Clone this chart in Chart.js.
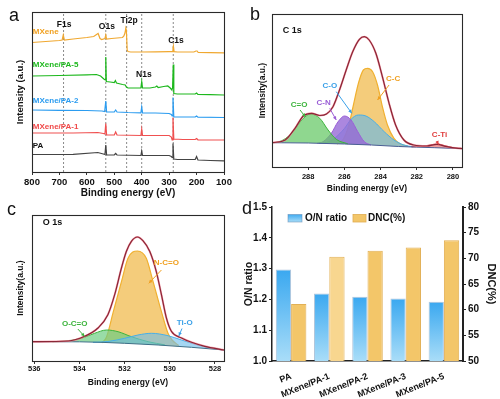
<!DOCTYPE html>
<html><head><meta charset="utf-8">
<script src="https://cdn.jsdelivr.net/npm/chart.js@4.4.1/dist/chart.umd.min.js"></script>
<style>
html,body{margin:0;padding:0;background:#fff;}
#wrap{position:relative;width:500px;height:399px;overflow:hidden;background:#fff;}
canvas{position:absolute;left:0;top:0;}
.lt{position:absolute;font-family:Arial,"Liberation Sans",sans-serif;font-size:18px;color:#111;line-height:18px;}
</style></head><body>
<div id="wrap">
<canvas id="ca" width="500" height="399"></canvas>
<canvas id="cb" width="500" height="399"></canvas>
<canvas id="cc" width="500" height="399"></canvas>
<canvas id="cd" width="500" height="399"></canvas>
<div class="lt" style="left:9px;top:6px;">a</div>
<div class="lt" style="left:250px;top:5px;">b</div>
<div class="lt" style="left:7px;top:200px;">c</div>
<div class="lt" style="left:242px;top:199px;">d</div>
</div>
<script>
// ================= DATA =================
// (a) XPS survey spectra: [binding energy (eV), intensity (a.u., stacked offset)]
const surveyNames = ['MXene', 'MXene/PA-5', 'MXene/PA-2', 'MXene/PA-1', 'PA'];
const surveyMXene = [[800,129.5],[750,130.5],[700,131.5],[690,132],[686,137],[682,132],[650,133],[600,134.5],[575,135.5],[562,138],[559,138.5],[552,133.5],[546,132.5],[534,133.5],[531,137],[528,133],[510,133.5],[490,134],[470,134.5],[465,136],[461,139],[458,144],[456,142],[453,122],[450,120.5],[440,120],[400,120],[350,120.2],[300,120.4],[289,120.4],[286,124],[284.5,126],[282,120.4],[270,120],[210,120],[202,121],[198,121],[194,119.5],[150,119.4],[100,119.2]];
const surveyPA5 = [[800,96],[700,96.5],[600,97.2],[565,97.5],[550,96],[538,93],[533,92],[531,115],[529,90.5],[515,90],[500,89.5],[496,91.5],[492,89],[470,87.5],[460,87],[456,85],[450,84],[420,84],[403,84],[400,90.5],[397,84],[370,84],[350,85],[345,86],[340,84.5],[320,85.5],[305,86],[296,84],[290,82],[287.5,84],[285,107.5],[283,78.5],[270,78],[205,78],[200,79],[195,77.5],[150,77.4],[100,77]];
const surveyPA2 = [[800,62],[700,61.7],[600,61.5],[545,61],[535,60.5],[531,71],[528,60],[500,60],[495,62],[490,60],[450,59.5],[403,59.2],[400,65],[397,59],[350,59],[300,58.5],[292,57.5],[289,56],[286,74.5],[283,55],[250,55],[205,55],[200,56],[195,54.8],[100,54.5]];
const surveyPA1 = [[800,39],[650,39],[560,39.5],[540,38.5],[534,38],[531,48.5],[528,37],[500,37],[495,40],[490,37],[403,36.5],[400,43],[397,36.5],[300,36.5],[292,35],[289,32],[286,54.5],[283,33],[250,32.5],[205,32.5],[200,33.5],[195,32.2],[100,32]];
const surveyPA = [[800,17.5],[650,17.7],[560,19.5],[540,18],[534,17.5],[531,27],[528,17],[500,17],[495,18.5],[490,17],[403,16.5],[400,21],[397,16.5],[300,16.5],[292,15.5],[289,14.5],[286,28.5],[283,13],[270,12.5],[205,12.5],[200,15.5],[195,12],[150,11.5],[100,11.2]];
const surveyPeakNames = ['F1s', 'O1s', 'Ti2p', 'N1s', 'C1s'];
const surveyPeakEnergies = [685, 531, 455, 400, 285];
const surveyTicks = [800, 700, 600, 500, 400, 300, 200, 100];

// (b) C 1s high-resolution spectrum: [binding energy (eV), intensity]
const c1sEnvelope = [[290,24.3],[289.27,27],[288.73,38.7],[288.27,51],[287.81,53.7],[287.36,51.5],[286.99,53],[286.63,60.3],[286.27,77],[285.9,97],[285.54,115.3],[285.17,127.7],[284.9,130.3],[284.63,127],[284.26,113.7],[283.9,90.3],[283.53,63.7],[283.17,42],[282.71,27],[282.17,22],[281.44,21],[280.89,22.7],[280.34,20.3],[279.7,18.7],[279.5,18.5]];
const c1sBackground = [[290,24.3],[288,24],[286,23],[284.5,22],[283,20.5],[281,19.3],[279.5,18.3]];
const c1sCO_double = [[290,24.3],[289.64,25],[288.91,33.7],[288.36,47],[287.85,53],[287.36,48.7],[286.9,37],[286.45,27.7],[285.81,23.2]];
const c1sCN = [[287.5,23.8],[287.18,25.3],[286.72,33.7],[286.36,45],[285.99,51],[285.63,47],[285.26,35.3],[284.9,25.3],[284.53,22]];
const c1sCO_single = [[287.4,23.5],[287.0,24.5],[286.54,28.7],[285.99,38.7],[285.63,47.7],[285.23,52],[284.81,51],[284.35,45.3],[283.8,35.3],[283.26,27],[282.71,22],[282.2,20.2]];
const c1sCC = [[286.4,23],[286.05,28],[285.75,42],[285.5,62],[285.22,84],[284.95,97],[284.72,98.7],[284.44,95.3],[284.17,82],[283.9,60.3],[283.62,42],[283.26,28.7],[282.9,23],[282.5,20.8]];
const c1sCTi = [[282.3,20.2],[281.8,20.6],[281.25,22],[280.89,23],[280.43,21.3],[279.9,19],[279.5,18.3]];
const c1sTicks = [288, 286, 284, 282, 280];

// (c) O 1s high-resolution spectrum
const o1sEnvelope = [[536.1,19.3],[534.5,20],[533.77,24.7],[533.18,33],[532.74,46.3],[532.44,66.3],[532.14,93],[531.92,109.7],[531.7,119.7],[531.43,124],[531.19,120.3],[530.89,109.7],[530.6,89.7],[530.37,66.3],[530.15,43],[529.93,29.7],[529.48,23],[529.04,18.7],[528.45,14.7],[527.6,11]];
const o1sBackground = [[536.1,19.3],[534,19.2],[532,17.7],[530.52,16],[529.04,13.7],[527.6,11]];
const o1sNCO = [[533.0,18.2],[532.8,24],[532.5,49.3],[532.14,79.3],[531.85,102.7],[531.43,110],[531.04,102.7],[530.74,79.3],[530.37,49.3],[530.08,27.7],[529.9,21],[529.6,15.5]];
const o1sOCO = [[535.2,19.3],[534.66,19.8],[533.92,22.7],[533.33,27.7],[532.8,31],[532.29,29.3],[531.7,24.3],[530.96,19.3],[530.22,16.2]];
const o1sTiO = [[533.4,18.7],[532.74,19.5],[532,22.7],[531.41,26],[530.81,27.7],[530.08,25.3],[529.48,21],[528.75,16],[528.15,12.7],[527.6,11]];
const o1sTicks = [536, 534, 532, 530, 528];

// (d) O/N ratio and DNC
const samples = ['PA', 'MXene/PA-1', 'MXene/PA-2', 'MXene/PA-3', 'MXene/PA-5'];
const onRatio = [1.297, 1.219, 1.209, 1.203, 1.192];
const dnc = [61.1, 70.3, 71.5, 72.1, 73.5];

// ================= HELPERS =================
const FONT = 'Arial, "Liberation Sans", Helvetica, sans-serif';
Chart.defaults.font.family = FONT;
Chart.defaults.color = '#111';
const pts = arr => arr.map(p => ({x: p[0], y: p[1]}));
const W = 500, H = 399;

const framePlugin = {
  id: 'frame',
  afterDatasetsDraw(chart, args, o) {
    if (!o || !o.on) return;
    const a = chart.chartArea, c = chart.ctx;
    c.save(); c.strokeStyle = '#2a2a2a'; c.lineWidth = 1.1;
    c.strokeRect(Math.round(a.left) + 0.5, Math.round(a.top) + 0.5, Math.round(a.right - a.left), Math.round(a.bottom - a.top));
    c.restore();
  }
};
const annotatePlugin = {
  id: 'annotate',
  afterDatasetsDraw(chart, args, o) {
    if (!o) return;
    const c = chart.ctx, xs = chart.scales.x, ys = chart.scales.y;
    c.save();
    (o.arrows || []).forEach(a => {
      const x1 = xs.getPixelForValue(a.x1), y1 = ys.getPixelForValue(a.y1);
      const x2 = xs.getPixelForValue(a.x2), y2 = ys.getPixelForValue(a.y2);
      c.strokeStyle = a.color; c.fillStyle = a.color; c.lineWidth = 1;
      c.beginPath(); c.moveTo(x1, y1); c.lineTo(x2, y2); c.stroke();
      const ang = Math.atan2(y2 - y1, x2 - x1), L = 4;
      c.beginPath(); c.moveTo(x2, y2);
      c.lineTo(x2 - L * Math.cos(ang - 0.45), y2 - L * Math.sin(ang - 0.45));
      c.lineTo(x2 - L * Math.cos(ang + 0.45), y2 - L * Math.sin(ang + 0.45));
      c.closePath(); c.fill();
    });
    (o.items || []).forEach(it => {
      c.font = it.font; c.fillStyle = it.color; c.textAlign = it.align || 'center'; c.textBaseline = 'middle';
      c.fillText(it.text, xs.getPixelForValue(it.x), ys.getPixelForValue(it.y));
    });
    c.restore();
  }
};
function areaPadding(L, T, R, B, yW, xH, rW) {
  return {left: L - yW, top: T, right: W - R - (rW || 0), bottom: H - B - xH};
}
function xAxis(min, max, ticks, size, pad, title, tsize, height, reverse) {
  return {
    type: 'linear', min, max, reverse,
    afterBuildTicks: s => { s.ticks = ticks.map(v => ({value: v})); },
    afterFit: s => { s.height = height; },
    grid: {display: true, drawOnChartArea: false, drawTicks: true, tickLength: 3, color: '#333'},
    border: {display: false},
    ticks: {font: {size, weight: 'bold'}, padding: pad, color: '#111', maxRotation: 0, autoSkip: false},
    title: {display: true, text: title, font: {size: tsize, weight: 'bold'}, color: '#111', padding: 0}
  };
}
function yAxisHidden(max, title, tsize, width) {
  return {
    type: 'linear', min: 0, max,
    afterFit: s => { s.width = width; },
    grid: {display: false}, border: {display: false},
    ticks: {display: false},
    title: {display: true, text: title, font: {size: tsize, weight: 'bold'}, color: '#111', padding: 0}
  };
}
const noAnim = {animation: false, responsive: false, devicePixelRatio: 1, events: []};

// ================= PANEL A =================
(function () {
  const series = [surveyMXene, surveyPA5, surveyPA2, surveyPA1, surveyPA];
  const colors = ['#f0a830', '#1db81d', '#2b9cf0', '#f05050', '#444444'];
  const ds = series.map((s, i) => ({data: pts(s), borderColor: colors[i], borderWidth: 1.2, pointRadius: 0, tension: 0, fill: false}));
  surveyPeakEnergies.forEach(e => ds.push({data: [{x: e, y: 0}, {x: e, y: 160}], borderColor: '#8a8a8a', borderWidth: 1, borderDash: [2, 2], pointRadius: 0, fill: false}));
  const lf = 'bold 8px ' + FONT;
  const items = [
    {text: surveyNames[0], x: 797, y: 140, color: '#f0a020', font: lf, align: 'left'},
    {text: surveyNames[1], x: 797, y: 107, color: '#1db81d', font: lf, align: 'left'},
    {text: surveyNames[2], x: 797, y: 71, color: '#2b9cf0', font: lf, align: 'left'},
    {text: surveyNames[3], x: 797, y: 45, color: '#f04848', font: lf, align: 'left'},
    {text: surveyNames[4], x: 797, y: 26, color: '#111', font: lf, align: 'left'}
  ];
  const peakLabelPos = [[683, 147], [527, 145], [446, 151], [392, 97], [275, 131]];
  surveyPeakNames.forEach((n, i) => items.push({text: n, x: peakLabelPos[i][0], y: peakLabelPos[i][1], color: '#111', font: 'bold 8.5px ' + FONT}));
  new Chart(document.getElementById('ca'), {
    type: 'line',
    data: {datasets: ds},
    options: Object.assign({}, noAnim, {
      layout: {padding: areaPadding(32, 12, 224, 172, 17.2, 27)},
      plugins: {legend: {display: false}, tooltip: {enabled: false}, frame: {on: true}, annotate: {items}},
      scales: {
        x: xAxis(100, 800, surveyTicks, 9.5, 1.3, 'Binding energy (eV)', 10, 27, true),
        y: yAxisHidden(160, 'Intensity (a.u.)', 9.5, 17.2)
      }
    }),
    plugins: [framePlugin, annotatePlugin]
  });
})();

// ================= PANEL B =================
(function () {
  const ds = [
    {data: pts(c1sEnvelope), borderColor: '#8a2636', borderWidth: 1.2, pointRadius: 0, cubicInterpolationMode: 'monotone', fill: false},
    {data: pts(c1sEnvelope), borderColor: 'rgba(245,140,155,0.8)', borderWidth: 2, pointRadius: 0, cubicInterpolationMode: 'monotone', fill: false},
    {data: pts(c1sBackground), borderColor: '#4a5f95', borderWidth: 1, pointRadius: 0, cubicInterpolationMode: 'monotone', fill: false},
    {data: pts(c1sCTi), borderColor: '#d83a3a', backgroundColor: 'rgba(225,80,80,0.55)', borderWidth: 1, pointRadius: 0, cubicInterpolationMode: 'monotone', fill: 2},
    {data: pts(c1sCO_double), borderColor: '#3cb43c', backgroundColor: 'rgba(100,200,100,0.72)', borderWidth: 1, pointRadius: 0, cubicInterpolationMode: 'monotone', fill: 2},
    {data: pts(c1sCN), borderColor: '#9a5ed6', backgroundColor: 'rgba(150,105,215,0.8)', borderWidth: 1, pointRadius: 0, cubicInterpolationMode: 'monotone', fill: 2},
    {data: pts(c1sCO_single), borderColor: '#46aee8', backgroundColor: 'rgba(110,185,225,0.68)', borderWidth: 1, pointRadius: 0, cubicInterpolationMode: 'monotone', fill: 2},
    {data: pts(c1sCC), borderColor: '#f0b030', backgroundColor: 'rgba(242,195,100,0.85)', borderWidth: 1.2, pointRadius: 0, cubicInterpolationMode: 'monotone', fill: 2}
  ];
  const lf = 'bold 8px ' + FONT;
  const items = [
    {text: 'C 1s', x: 289.4, y: 136.5, color: '#111', font: 'bold 9px ' + FONT, align: 'left'},
    {text: 'C=O', x: 288.5, y: 62, color: '#3cb43c', font: lf},
    {text: 'C-N', x: 287.15, y: 64.3, color: '#9a5ed6', font: lf},
    {text: 'C-O', x: 286.8, y: 81, color: '#3aa0e8', font: lf},
    {text: 'C-C', x: 283.31, y: 88.7, color: '#f0a020', font: lf},
    {text: 'C-Ti', x: 280.74, y: 32, color: '#e04040', font: lf}
  ];
  const arrows = [
    {x1: 288.45, y1: 57, x2: 288.15, y2: 50, color: '#3cb43c'},
    {x1: 286.81, y1: 58.7, x2: 286.45, y2: 47, color: '#9a5ed6'},
    {x1: 286.45, y1: 75.3, x2: 285.59, y2: 53.7, color: '#3aa0e8'},
    {x1: 283.53, y1: 82, x2: 284.17, y2: 67, color: '#f0a020'},
    {x1: 280.89, y1: 26, x2: 280.8, y2: 22.5, color: '#e04040'}
  ];
  new Chart(document.getElementById('cb'), {
    type: 'line',
    data: {datasets: ds},
    options: Object.assign({}, noAnim, {
      layout: {padding: areaPadding(272, 14, 462, 167, 14, 26.6)},
      plugins: {legend: {display: false}, tooltip: {enabled: false}, frame: {on: true}, annotate: {items, arrows}, filler: {propagate: false}},
      scales: {
        x: xAxis(279.5, 290, c1sTicks, 7.5, 2.6, 'Binding energy (eV)', 8.5, 26.6, true),
        y: yAxisHidden(153, 'Intensity(a.u.)', 8.5, 14)
      }
    }),
    plugins: [framePlugin, annotatePlugin]
  });
})();

// ================= PANEL C =================
(function () {
  const ds = [
    {data: pts(o1sEnvelope), borderColor: '#8a2636', borderWidth: 1.2, pointRadius: 0, cubicInterpolationMode: 'monotone', fill: false},
    {data: pts(o1sEnvelope), borderColor: 'rgba(245,140,155,0.8)', borderWidth: 2, pointRadius: 0, cubicInterpolationMode: 'monotone', fill: false},
    {data: pts(o1sBackground), borderColor: '#3d6f8a', borderWidth: 1, pointRadius: 0, cubicInterpolationMode: 'monotone', fill: false},
    {data: pts(o1sTiO), borderColor: '#46aee8', backgroundColor: 'rgba(110,190,235,0.62)', borderWidth: 1, pointRadius: 0, cubicInterpolationMode: 'monotone', fill: 2},
    {data: pts(o1sOCO), borderColor: '#3cb43c', backgroundColor: 'rgba(110,205,130,0.7)', borderWidth: 1, pointRadius: 0, cubicInterpolationMode: 'monotone', fill: 2},
    {data: pts(o1sNCO), borderColor: '#f0b030', backgroundColor: 'rgba(242,195,100,0.85)', borderWidth: 1.2, pointRadius: 0, cubicInterpolationMode: 'monotone', fill: 2}
  ];
  const lf = 'bold 8px ' + FONT;
  const items = [
    {text: 'O 1s', x: 535.62, y: 138.7, color: '#111', font: 'bold 9px ' + FONT, align: 'left'},
    {text: 'N-C=O', x: 530.15, y: 98.3, color: '#f0a020', font: lf},
    {text: 'Ti-O', x: 529.34, y: 38.7, color: '#3aa0e8', font: lf},
    {text: 'O-C=O', x: 534.21, y: 37.7, color: '#3cb43c', font: lf}
  ];
  const arrows = [
    {x1: 530.37, y1: 91, x2: 530.93, y2: 77.7, color: '#f0a020'},
    {x1: 534.07, y1: 32, x2: 533.77, y2: 24.5, color: '#3cb43c'},
    {x1: 529.46, y1: 32.5, x2: 529.6, y2: 25, color: '#3aa0e8'}
  ];
  new Chart(document.getElementById('cc'), {
    type: 'line',
    data: {datasets: ds},
    options: Object.assign({}, noAnim, {
      layout: {padding: areaPadding(32, 215, 224, 361, 16.1, 27.1)},
      plugins: {legend: {display: false}, tooltip: {enabled: false}, frame: {on: true}, annotate: {items, arrows}, filler: {propagate: false}},
      scales: {
        x: xAxis(527.6, 536.1, o1sTicks, 7.5, 0.8, 'Binding energy (eV)', 8.5, 27.1, true),
        y: yAxisHidden(146, 'Intensity(a.u.)', 8.5, 16.1)
      }
    }),
    plugins: [framePlugin, annotatePlugin]
  });
})();

// ================= PANEL D =================
(function () {
  const blueGrad = ctx => {
    const ch = ctx.chart, a = ch.chartArea;
    if (!a || ctx.parsed === undefined) return '#5bb8f0';
    const top = ch.scales.y.getPixelForValue(ctx.parsed.y);
    const g = ch.ctx.createLinearGradient(0, top, 0, a.bottom);
    g.addColorStop(0, '#3aa8f0'); g.addColorStop(1, '#a9ddf8');
    return g;
  };
  const yellow = ['#f3c669', '#f8d68f', '#f3c669', '#f3c669', '#f3c669'];
  const legendPlugin = {
    id: 'dlegend',
    afterDraw(chart) {
      const c = chart.ctx;
      c.save();
      let g = c.createLinearGradient(0, 214, 0, 222);
      g.addColorStop(0, '#3aa8f0'); g.addColorStop(1, '#a9ddf8');
      c.fillStyle = g; c.fillRect(288, 214.5, 14, 7.5);
      c.strokeStyle = 'rgba(90,130,170,0.6)'; c.lineWidth = 0.8; c.strokeRect(288, 214.5, 14, 7.5);
      c.fillStyle = '#f3c669'; c.fillRect(353, 214.5, 13, 7.5);
      c.strokeStyle = '#e0ad50'; c.strokeRect(353, 214.5, 13, 7.5);
      c.fillStyle = '#111'; c.font = 'bold 10px ' + FONT; c.textBaseline = 'middle'; c.textAlign = 'left';
      c.fillText(chart.data.datasets[0].label, 305, 218.5);
      c.fillText(chart.data.datasets[1].label, 368, 218.5);
      c.restore();
    }
  };
  new Chart(document.getElementById('cd'), {
    type: 'bar',
    data: {
      labels: samples,
      datasets: [
        {label: 'O/N ratio', data: onRatio, yAxisID: 'y', backgroundColor: blueGrad, borderColor: 'rgba(110,150,190,0.55)', borderWidth: 1, categoryPercentage: 0.8, barPercentage: 1},
        {label: 'DNC(%)', data: dnc, yAxisID: 'y1', backgroundColor: yellow, borderColor: '#e2b055', borderWidth: 1, categoryPercentage: 0.8, barPercentage: 1}
      ]
    },
    options: Object.assign({}, noAnim, {
      layout: {padding: areaPadding(272, 207, 463, 361, 29, 38, 34.6)},
      plugins: {legend: {display: false}, tooltip: {enabled: false}},
      scales: {
        x: {
          afterFit: s => { s.height = 38; },
          grid: {display: false},
          border: {display: true, color: '#222', width: 1.5},
          ticks: {font: {size: 9, weight: 'bold'}, color: '#111', minRotation: 22, maxRotation: 22, padding: 2, autoSkip: false}
        },
        y: {
          position: 'left', min: 1.0, max: 1.5,
          afterFit: s => { s.width = 29; },
          grid: {drawOnChartArea: false, drawTicks: true, tickLength: 3, color: '#222'},
          border: {display: true, color: '#222', width: 1.5},
          ticks: {stepSize: 0.1, font: {size: 10, weight: 'bold'}, color: '#111', padding: 2, callback: v => v.toFixed(1)},
          title: {display: true, text: 'O/N ratio', font: {size: 10.5, weight: 'bold'}, color: '#111', padding: 0}
        },
        y1: {
          position: 'right', min: 50, max: 80,
          afterFit: s => { s.width = 34.6; },
          grid: {drawOnChartArea: false, drawTicks: true, tickLength: 3, color: '#222'},
          border: {display: true, color: '#222', width: 2},
          ticks: {stepSize: 5, font: {size: 10, weight: 'bold'}, color: '#111', padding: 2},
          title: {display: true, text: 'DNC(%)', font: {size: 11, weight: 'bold'}, color: '#111', padding: 0}
        }
      }
    }),
    plugins: [legendPlugin]
  });
})();
</script>
</body></html>
